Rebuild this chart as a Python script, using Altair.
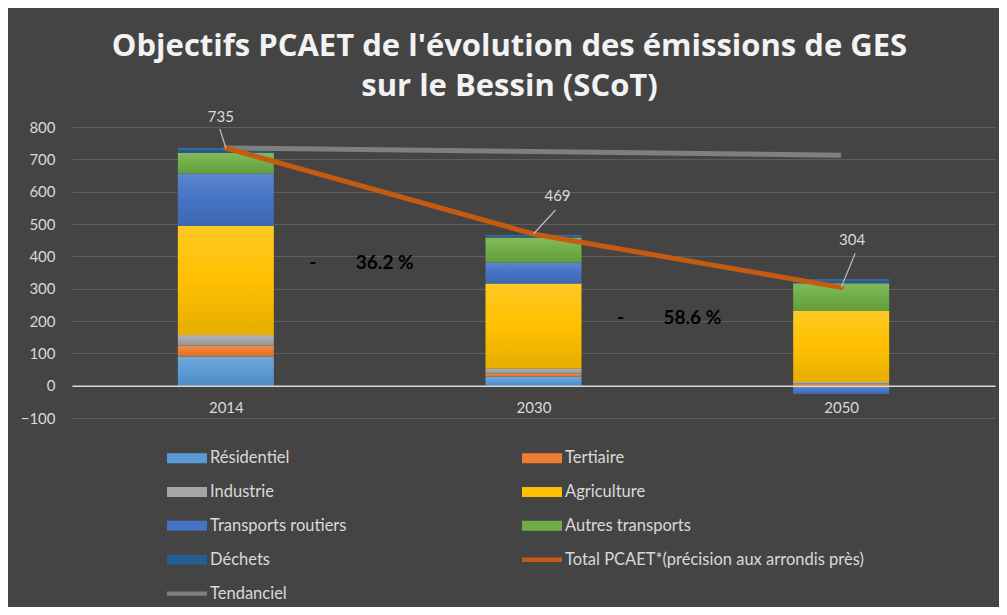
import altair as alt
import pandas as pd

# ---------------- data ----------------
YEARS = ["2014", "2030", "2050"]
SECTEURS = ["Résidentiel", "Tertiaire", "Industrie", "Agriculture",
            "Transports routiers", "Autres transports", "Déchets"]
RESIDENTIEL = [90, 28, -9]
TERTIAIRE = [34, 10, 6]
INDUSTRIE = [33, 15, 5]
AGRICULTURE = [337, 263, 220]
TRANSPORTS_ROUTIERS = [162, 65, -17]
AUTRES_TRANSPORTS = [64, 77, 86]
DECHETS = [15, 8, 12]

TOTAL_NAME = "Total PCAET*(précision aux arrondis près)"
TEND_NAME = "Tendanciel"
TOTAL_PCAET = [735, 469, 304]
TENDANCIEL = [735, 724, 713]

EVOLUTION_TEXT = ["36.2 %", "58.6 %"]
EVOLUTION_FROM = ["2014", "2030"]
EVOLUTION_LEVEL = [380, 210]

Y_TICKS = [-100, 0, 100, 200, 300, 400, 500, 600, 700, 800]

LINE_SERIES = [TOTAL_NAME, TEND_NAME]
SERIES_ALL = SECTEURS + LINE_SERIES
BAR_COLORS = ["#5B9BD5", "#ED7D31", "#A5A5A5", "#FFC000", "#4472C4",
              "#70AD47", "#255E91"]
LINE_COLORS = ["#C55A11", "#7F7F7F"]

# ---------------- tables ----------------
sector_values = [RESIDENTIEL, TERTIAIRE, INDUSTRIE, AGRICULTURE,
                 TRANSPORTS_ROUTIERS, AUTRES_TRANSPORTS, DECHETS]
rows = []
for k, (name, vals) in enumerate(zip(SECTEURS, sector_values)):
    for y, v in zip(YEARS, vals):
        rows.append({"annee": y, "serie": name, "valeur": v, "ordre": k})
bars_df = pd.DataFrame(rows)

total_df = pd.DataFrame({"annee": YEARS, "valeur": TOTAL_PCAET, "serie": TOTAL_NAME})
tend_df = pd.DataFrame({"annee": YEARS, "valeur": TENDANCIEL, "serie": TEND_NAME})
evol_df = pd.DataFrame({"annee": EVOLUTION_FROM, "niveau": EVOLUTION_LEVEL,
                        "texte": EVOLUTION_TEXT})
legend_df = pd.DataFrame({"serie": SERIES_ALL})

# ---------------- styling ----------------
W, H = 923, 291
FONT = "Lato"
TXT = "#D9D9D9"
BG = "#444444"

x_scale = alt.Scale(type="point", domain=YEARS, padding=0.5)
y_scale = alt.Scale(domain=[-100, 800], nice=False, zero=False)
stroke_scale = alt.Scale(domain=LINE_SERIES, range=LINE_COLORS)
legend_color_scale = alt.Scale(domain=SERIES_ALL, range=BAR_COLORS + LINE_COLORS)

# wide, flat legend swatches (bars thicker than lines)
BAR_PATH = "M-2,-0.5H2V0.5H-2Z"
LINE_PATH = "M-2,-0.22H2V0.22H-2Z"
shape_scale = alt.Scale(domain=SERIES_ALL,
                        range=[BAR_PATH] * len(SECTEURS) + [LINE_PATH] * len(LINE_SERIES))

x_axis = alt.Axis(title=None, orient="bottom", offset=-H * 100 / 900,
                  labelAngle=0, labelFont=FONT, labelFontSize=15, labelColor=TXT,
                  labelPadding=15, ticks=False, grid=False,
                  domainColor="#D9D9D9", domainWidth=1.5, zindex=1)
y_axis = alt.Axis(title=None, values=Y_TICKS, labelFont=FONT, labelFontSize=15,
                  labelColor=TXT, labelPadding=17, ticks=False, domain=False,
                  labelOverlap=False, labelFlush=False,
                  gridColor="#5E5E5E", gridWidth=1)


def X(field="annee:N"):
    return alt.X(field, scale=x_scale, axis=x_axis)


def Y(field):
    return alt.Y(field, scale=y_scale, axis=y_axis)


def shade(hex_color, f):
    h = hex_color.lstrip("#")
    r, g, b = (int(h[i:i + 2], 16) for i in (0, 2, 4))
    if f >= 0:
        r, g, b = (round(c + (255 - c) * f) for c in (r, g, b))
    else:
        r, g, b = (round(c * (1 + f)) for c in (r, g, b))
    return "#{:02X}{:02X}{:02X}".format(r, g, b)


def gradient(hex_color):
    return alt.LinearGradient(
        gradient="linear", x1=0, y1=0, x2=0, y2=1,
        stops=[alt.GradientStop(offset=0, color=shade(hex_color, 0.14)),
               alt.GradientStop(offset=0.5, color=hex_color),
               alt.GradientStop(offset=1, color=shade(hex_color, -0.10))])


stacked = alt.Chart(bars_df).transform_stack(
    stack="valeur", groupby=["annee"], as_=["bas", "haut"],
    sort=[alt.SortField("ordre", order="ascending")], offset="zero",
)
bar_layers = []
for name, col in zip(SECTEURS, BAR_COLORS):
    bar_layers.append(
        stacked.transform_filter(alt.datum.serie == name)
        .mark_bar(size=96, color=gradient(col))
        .encode(x=X(), y=Y("bas:Q"), y2="haut:Q")
    )

tend_line = alt.Chart(tend_df).mark_line(strokeWidth=5, strokeCap="butt").encode(
    x=X(), y=Y("valeur:Q"),
    stroke=alt.Stroke("serie:N", scale=stroke_scale, legend=None),
)
total_line = alt.Chart(total_df).mark_line(strokeWidth=5, strokeCap="round").encode(
    x=X(), y=Y("valeur:Q"),
    stroke=alt.Stroke("serie:N", scale=stroke_scale, legend=None),
)

# value labels with leader lines (pixel offsets per label)
LABEL_OFFSETS = {"2014": (-5, -31), "2030": (24, -38), "2050": (11, -47)}
LEADER_OFFSETS = {"2014": (-6, -19), "2030": (22, -24), "2050": (14, -34)}
label_layers = []
for yr in YEARS:
    sub = alt.Chart(total_df).transform_filter(alt.datum.annee == yr)
    ldx, ldy = LEADER_OFFSETS[yr]
    label_layers.append(
        sub.mark_rule(color="#BFBFBF", strokeWidth=1.2, x2Offset=ldx, y2Offset=ldy).encode(
            x=X(), x2="annee:N", y=Y("valeur:Q"), y2="valeur:Q",
        )
    )
    tdx, tdy = LABEL_OFFSETS[yr]
    label_layers.append(
        sub.mark_text(font=FONT, fontSize=15, color=TXT, dx=tdx, dy=tdy,
                      baseline="middle", align="center").encode(
            x=X(), y=Y("valeur:Q"), text=alt.Text("valeur:Q"),
        )
    )

evol_pct = alt.Chart(evol_df).mark_text(font=FONT, fontSize=19, fontWeight="bold",
                                        color="#000000", align="left",
                                        baseline="middle", dx=130).encode(
    x=X(), y=Y("niveau:Q"), text="texte:N",
)
evol_dash = alt.Chart(evol_df).mark_text(font=FONT, fontSize=19, fontWeight="bold",
                                         color="#000000", align="center",
                                         baseline="middle", dx=87, text="-").encode(
    x=X(), y=Y("niveau:Q"),
)

LEG = alt.Legend(title=None, orient="none", legendX=105, legendY=321,
                 direction="horizontal", columns=2, columnPadding=175,
                 rowPadding=14.9, symbolSize=400, symbolStrokeWidth=0,
                 symbolOpacity=1, labelFont=FONT,
                 labelFontSize=16.5, labelColor=TXT,
                 labelOffset=13, labelLimit=400, padding=0)

legend_layer = alt.Chart(legend_df).mark_point(filled=True, opacity=0).encode(
    color=alt.Color("serie:N", scale=legend_color_scale, legend=LEG),
    shape=alt.Shape("serie:N", scale=shape_scale, legend=LEG),
)

chart = alt.layer(
    *bar_layers, tend_line, total_line, *label_layers, evol_dash, evol_pct, legend_layer
).properties(
    width=W, height=H,
    title=alt.TitleParams(
        text=["Objectifs PCAET de l'évolution des émissions de GES", "sur le Bessin (SCoT)"],
        font="Open Sans", fontSize=31, fontWeight="bold", color="#F2F2F2",
        lineHeight=40, anchor="middle", dx=-24, offset=7,
    ),
    background=BG,
    padding={"left": 64, "top": 119, "right": 4, "bottom": 189},
    autosize=alt.AutoSizeParams(type="none"),
).configure_view(stroke=None).configure_axisY(labelOverlap=False)

chart.save("out.html", embed_options={"renderer": "svg", "actions": False})
